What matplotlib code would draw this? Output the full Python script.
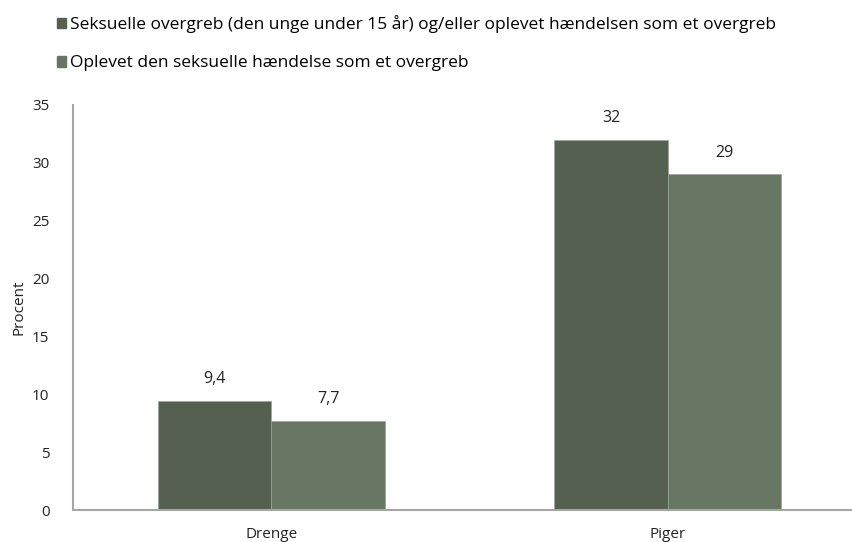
import numpy as np
import matplotlib.pyplot as plt

# data
categories = ["Drenge", "Piger"]
series_names = ["Seksuelle overgreb (den unge under 15 år) og/eller oplevet hændelsen som et overgreb",
                "Oplevet den seksuelle hændelse som et overgreb"]
overgreb = [9.4, 32]
oplevet = [7.7, 29]
yticks = [0, 5, 10, 15, 20, 25, 30, 35]

colors = ["#556050", "#667662"]
plt.rcParams['font.family'] = ['Open Sans', 'DejaVu Sans']

fig = plt.figure(figsize=(8.53, 5.42), dpi=100)
# axes extends a bit past the right edge, like the original
ax = fig.add_axes([73 / 853, 1 - 510 / 542, 793 / 853, 405 / 542])

x = np.arange(len(categories))
w = 0.286
b1 = ax.bar(x - w / 2, overgreb, w, color=colors[0], edgecolor="#9aa596", linewidth=0.5)
b2 = ax.bar(x + w / 2, oplevet, w, color=colors[1], edgecolor="#9aa596", linewidth=0.5)

for bars, vals in [(b1, overgreb), (b2, oplevet)]:
    for r, v in zip(bars, vals):
        txt = f"{v:g}".replace(".", ",")
        ax.annotate(txt, (r.get_x() + r.get_width() / 2, v), xytext=(0, 10),
                    textcoords="offset points", ha="center", va="bottom", fontsize=11.5, color="#222222")

ax.set_xlim(-0.5, 1.5)
ax.set_ylim(0, 35)
ax.set_yticks(yticks)
ax.set_xticks(x)
ax.set_xticklabels(categories, fontsize=11.5)
ax.tick_params(length=0, labelsize=11, colors="#222222")
ax.tick_params(axis="y", pad=17)
ax.tick_params(axis="x", pad=12)
ax.set_ylabel("Procent", fontsize=11, labelpad=4, color="#222222")

for s in ["top", "right"]:
    ax.spines[s].set_visible(False)
for s in ["left", "bottom"]:
    ax.spines[s].set_color("#a6a6a6")
    ax.spines[s].set_linewidth(1.5)

# legend, stacked on top
handles = [plt.Rectangle((0, 0), 1, 1, color=c) for c in colors]
fig.legend(handles, series_names, loc="upper left", bbox_to_anchor=(50 / 853, 1 - 8 / 542),
           frameon=False, fontsize=12.5, handlelength=0.55, handleheight=0.55,
           handletextpad=0.2, labelspacing=1.3, borderaxespad=0)

fig.savefig("out.png", dpi=100)
